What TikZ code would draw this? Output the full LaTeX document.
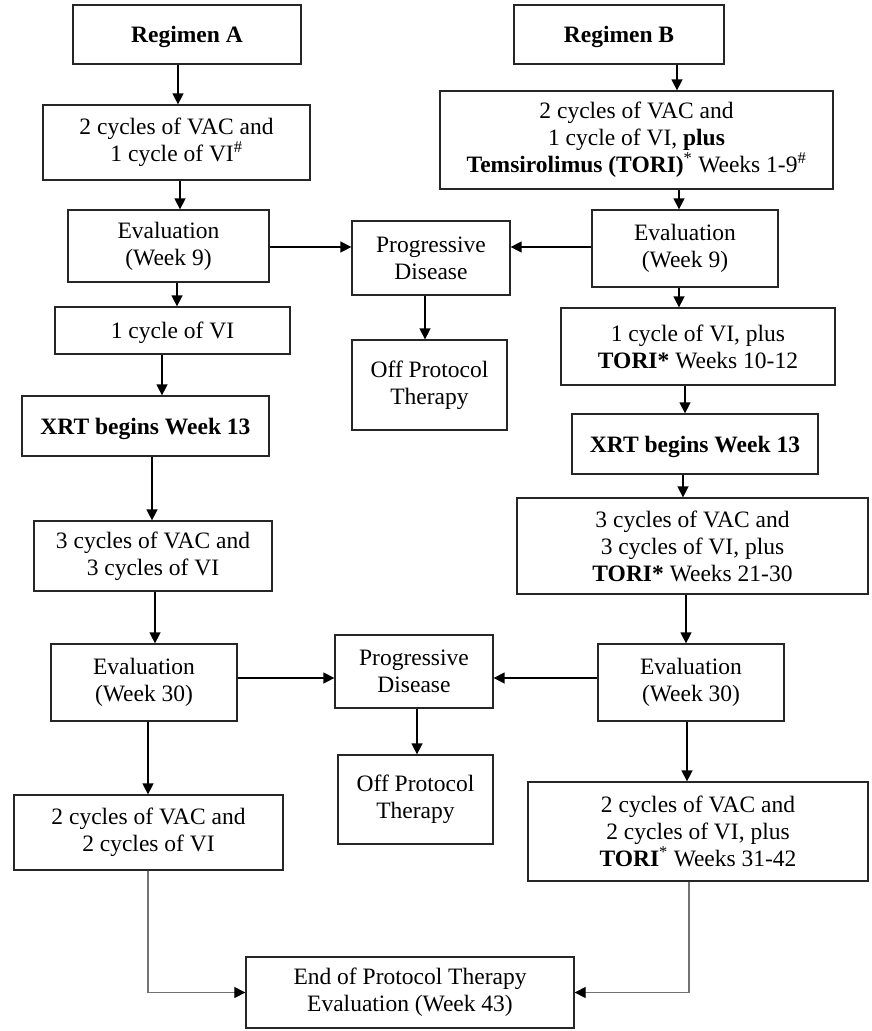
\documentclass[tikz,border=0pt]{standalone}
\usepackage{fontspec}
\setmainfont{Liberation Serif}
\usetikzlibrary{arrows.meta}
\begin{document}
\begin{tikzpicture}[x=1pt,y=-1pt,
  box/.style={draw=black!85,line width=1.3pt,inner sep=0pt,align=center,
    font=\fontsize{23.5}{27}\selectfont},
  one/.style={text depth=0pt},
  arr/.style={line width=1.5pt,-{Triangle[length=11pt,width=11pt]}},
  garr/.style={line width=1.2pt,draw=black!55,-{Triangle[length=11pt,width=11pt,color=black]}}]
\useasboundingbox (0,0) rectangle (871,1031);
% left column
\node[box,one,minimum width=228,minimum height=59] (rA) at (187,34.5) {\textbf{Regimen A}};
\node[box,minimum width=267,minimum height=75] (a1) at (176.5,142.5) {2 cycles of VAC and\\1 cycle of VI\textsuperscript{\#}};
\node[box,minimum width=201,minimum height=72] (e9a) at (168.5,246) {Evaluation\\(Week 9)};
\node[box,one,minimum width=235,minimum height=47] (a2) at (172.5,330.5) {1 cycle of VI};
\node[box,one,minimum width=247,minimum height=60] (xa) at (145.5,426) {\textbf{XRT begins Week 13}};
\node[box,minimum width=238,minimum height=70] (a3) at (153,556) {3 cycles of VAC and\\3 cycles of VI};
\node[box,minimum width=186,minimum height=77] (e30a) at (144,682.5) {Evaluation\\(Week 30)};
\node[box,minimum width=269,minimum height=75] (a4) at (148.5,832.5) {2 cycles of VAC and\\2 cycles of VI};
% middle column
\node[box,minimum width=158,minimum height=74] (pd1) at (431,258) {Progressive\\Disease};
\node[box,minimum width=155,minimum height=90] (op1) at (429.5,385) {Off Protocol\\Therapy};
\node[box,minimum width=158,minimum height=73] (pd2) at (414,671.5) {Progressive\\Disease};
\node[box,minimum width=155,minimum height=89] (op2) at (415.5,799.5) {Off Protocol\\Therapy};
\node[box,minimum width=328,minimum height=71] (end) at (410,992.5) {End of Protocol Therapy\\Evaluation (Week 43)};
% right column
\node[box,one,minimum width=210,minimum height=59] (rB) at (619,34.5) {\textbf{Regimen B}};
\node[box,minimum width=393,minimum height=98] (b1) at (636.5,140) {2 cycles of VAC and\\1 cycle of VI, \textbf{plus}\\\textbf{Temsirolimus (TORI)}\textsuperscript{*} Weeks 1-9\textsuperscript{\#}};
\node[box,minimum width=186,minimum height=77] (e9b) at (685,248.5) {Evaluation\\(Week 9)};
\node[box,minimum width=274,minimum height=77] (b2) at (698,346.5) {1 cycle of VI, plus\\\textbf{TORI*} Weeks 10-12};
\node[box,one,minimum width=246,minimum height=60] (xb) at (695,444) {\textbf{XRT begins Week 13}};
\node[box,minimum width=351,minimum height=96] (b3) at (692.5,546) {3 cycles of VAC and\\3 cycles of VI, plus\\\textbf{TORI*} Weeks 21-30};
\node[box,minimum width=186,minimum height=77] (e30b) at (691,682.5) {Evaluation\\(Week 30)};
\node[box,minimum width=340,minimum height=99] (b4) at (698,831.5) {2 cycles of VAC and\\2 cycles of VI, plus\\\textbf{TORI}\textsuperscript{*} Weeks 31-42};
% left arrows
\draw[arr] (rA.south -| 178,0) -- (a1.north -| 178,0);
\draw[arr] (a1.south -| 180,0) -- (e9a.north -| 180,0);
\draw[arr] (e9a.south -| 177,0) -- (a2.north -| 177,0);
\draw[arr] (a2.south -| 162,0) -- (xa.north -| 162,0);
\draw[arr] (xa.south -| 152,0) -- (a3.north -| 152,0);
\draw[arr] (a3.south -| 155,0) -- (e30a.north -| 155,0);
\draw[arr] (e30a.south -| 148,0) -- (a4.north -| 148,0);
\draw[garr] (a4.south -| 148,0) |- (end.west);
% middle arrows
\draw[arr] (e9a.east |- 0,247) -- (pd1.west |- 0,247);
\draw[arr] (e9b.west |- 0,247) -- (pd1.east |- 0,247);
\draw[arr] (pd1.south -| 425,0) -- (op1.north -| 425,0);
\draw[arr] (e30a.east |- 0,678) -- (pd2.west |- 0,678);
\draw[arr] (e30b.west |- 0,678) -- (pd2.east |- 0,678);
\draw[arr] (pd2.south -| 417,0) -- (op2.north -| 417,0);
% right arrows
\draw[arr] (rB.south -| 677,0) -- (b1.north -| 677,0);
\draw[arr] (b1.south -| 679,0) -- (e9b.north -| 679,0);
\draw[arr] (e9b.south -| 679,0) -- (b2.north -| 679,0);
\draw[arr] (b2.south -| 685,0) -- (xb.north -| 685,0);
\draw[arr] (xb.south -| 683,0) -- (b3.north -| 683,0);
\draw[arr] (b3.south -| 686,0) -- (e30b.north -| 686,0);
\draw[arr] (e30b.south -| 687,0) -- (b4.north -| 687,0);
\draw[garr] (b4.south -| 689,0) |- (end.east);
\end{tikzpicture}
\end{document}
